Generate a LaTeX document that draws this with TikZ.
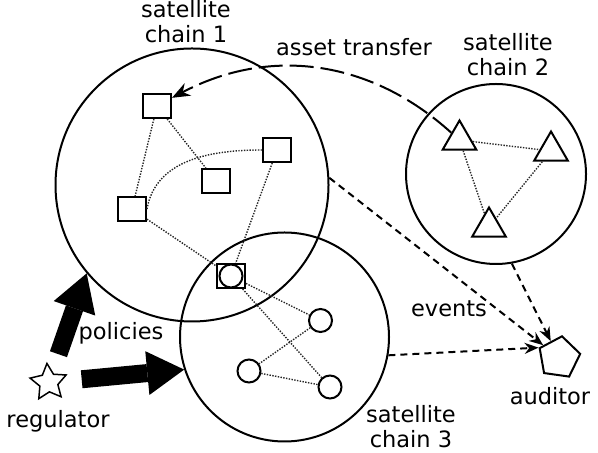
\documentclass[tikz,border=0pt]{standalone}
\usepackage{fontspec}
\setmainfont{DejaVu Sans}
\usepackage{tikz}
\usetikzlibrary{positioning,shapes.geometric,arrows.meta}
\tikzstyle{chain} = [draw, circle, line width=1pt, inner sep=0pt]
\tikzstyle{member} = [draw, fill=white, rectangle, line width=1pt,
    minimum width=14pt, minimum height=12pt, inner sep=0pt]
\tikzstyle{token} = [draw, fill=white, circle, line width=1pt,
    minimum size=11.5pt, inner sep=0pt]
\tikzstyle{peer} = [draw, fill=white, regular polygon, regular polygon sides=3,
    line width=1pt, minimum size=19.5pt, inner sep=0pt]
\tikzstyle{link} = [line width=0.7pt, black!85, dash pattern=on 0.7pt off 0.7pt]
\tikzstyle{report} = [line width=1pt, dash pattern=on 3.5pt off 2.5pt,
    -{Stealth[length=7pt,width=5.5pt]}]
\tikzstyle{transfer} = [line width=1pt, dash pattern=on 12pt off 3.5pt,
    -{Stealth[length=9pt,width=7pt]}]
\tikzstyle{policy} = [line width=9pt, -{Triangle[length=18.5pt,width=22pt,line width=0pt]}]
\tikzstyle{caption} = [inner sep=0pt, align=center]

\begin{document}
\begin{tikzpicture}[x=0.5pt, y=0.5pt, font=\fontsize{11.25}{12.5}\selectfont]
    \useasboundingbox (0,0) rectangle (598,453);
    % We start by placing the three chains
    \node [chain, minimum size=136.5pt] (chain1) at (192,268) {};
    \node [chain, minimum size=90pt] (chain2) at (496,279) {};
    \node [chain, minimum size=104.5pt] (chain3) at (284.5,116) {};
    \node [caption] (name1) at (186,431.8) {satellite\\chain 1};
    \node [caption] (name2) at (508,398.8) {satellite\\chain 2};
    \node [caption] (name3) at (411,26.3) {satellite\\chain 3};

    % Members of every chain
    \node [member] (sq1) at (157,347) {};
    \node [member] (sq2) at (277,303) {};
    \node [member] (sq3) at (216,272) {};
    \node [member] (sq4) at (132,244) {};
    \node [member] (sq5) at (231,177) {};
    \node [token] (circ0) at (231,177) {};
    \node [token] (circ1) at (320.5,132.5) {};
    \node [token] (circ2) at (249,82) {};
    \node [token] (circ3) at (330,66) {};
    \node [peer] (tri1) at (459.5,313) {};
    \node [peer] (tri2) at (551,302) {};
    \node [peer] (tri3) at (489,226) {};

    % Regulator and auditor sit outside the chains
    \node [draw, star, star points=5, star point ratio=2, minimum size=19pt,
            inner sep=0pt, line width=0.75pt, shape border rotate=5] (regulator) at (48.6,70.6) {};
    \node [caption, anchor=base] (reglabel) at (58,25) {regulator};
    \node [draw, regular polygon, regular polygon sides=5, minimum size=21.5pt,
            inner sep=0pt, line width=1pt, shape border rotate=-8] (auditor) at (559,95.4) {};
    \node [caption, anchor=base] (audlabel) at (550,48) {auditor};

    % Once the nodes are placed, the links follow
    \draw [link] (sq1) -- (sq4);
    \draw [link] (sq1) -- (sq3);
    \draw [link] (sq4.east) to [out=80, in=180] (sq2.west);
    \draw [link] (sq2) -- (sq5);
    \draw [link] (sq4) -- (sq5);
    \draw [link] (sq5) -- (circ1);
    \draw [link] (sq5) -- (circ3);
    \draw [link] (circ1) -- (circ2);
    \draw [link] (circ2) -- (circ3);
    \draw [link] (tri1) -- (tri2);
    \draw [link] (tri1) -- (tri3);
    \draw [link] (tri2) -- (tri3);

    \draw [transfer] (tri1) to [bend right=35] (sq1);
    \node [caption, anchor=base] (translabel) at (354,397) {asset transfer};

    \draw [report] (chain1.3) -- (auditor);
    \draw [report] (chain2.-80) -- (auditor);
    \draw [report] (chain3.-10) -- (auditor.corner 2);
    \node [caption, anchor=base] (evlabel) at (449,136) {events};

    \draw [policy, shorten <=9pt] (regulator) -- (chain1.220);
    \draw [policy, shorten <=10pt] (regulator) -- (chain3.198);
    \node [caption, anchor=base] (pollabel) at (121,113) {policies};
\end{tikzpicture}
\end{document}
